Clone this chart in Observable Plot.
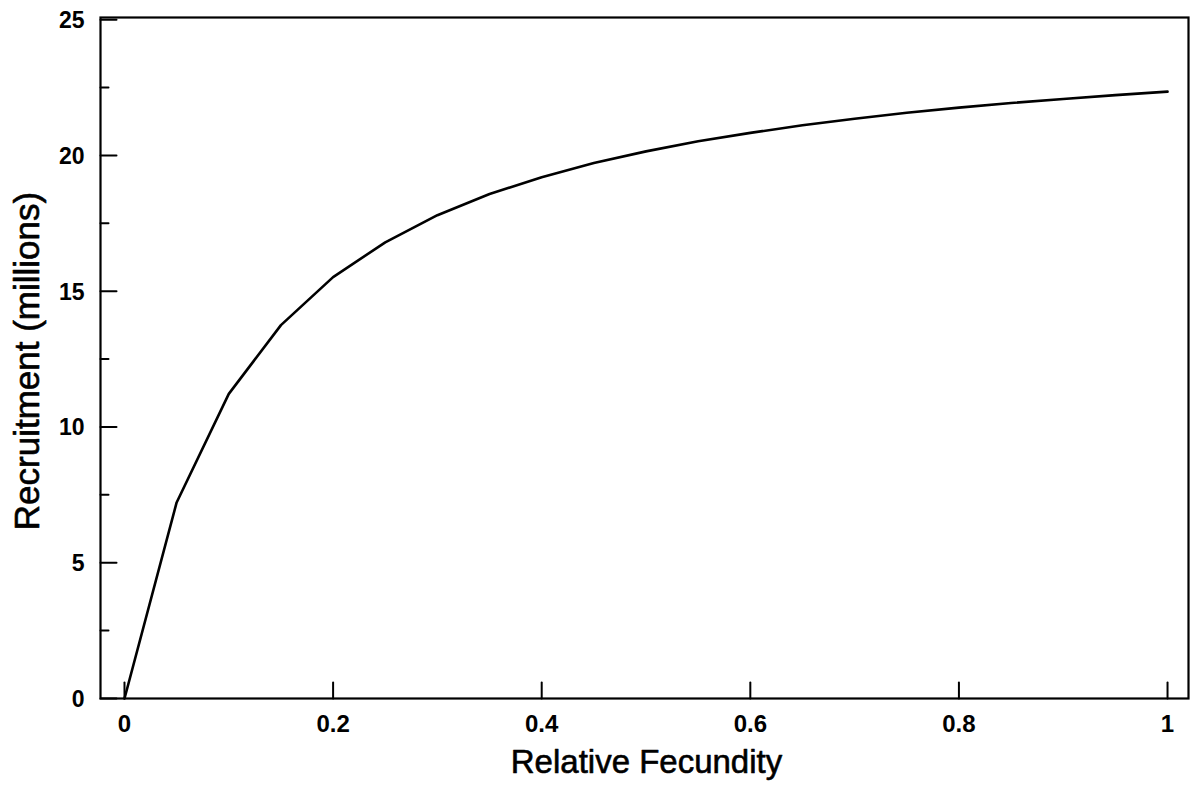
<!DOCTYPE html>
<html>
<head>
<meta charset="utf-8">
<script src="https://cdn.jsdelivr.net/npm/d3@7"></script>
<script src="https://cdn.jsdelivr.net/npm/@observablehq/plot@0.6"></script>
<style>
  html, body { margin: 0; padding: 0; background: #fff; }
  #chart svg { display: block; }
</style>
</head>
<body>
<div id="chart"></div>
<script>
// Data
const fecundity = [0, 0.05, 0.10, 0.15, 0.20, 0.25, 0.30, 0.35, 0.40, 0.45, 0.50,
                   0.55, 0.60, 0.65, 0.70, 0.75, 0.80, 0.85, 0.90, 0.95, 1.00];
const recruitment = [0, 7.22, 11.22, 13.75, 15.52, 16.80, 17.80, 18.58, 19.20, 19.72, 20.15,
                     20.52, 20.83, 21.11, 21.35, 21.57, 21.76, 21.93, 22.08, 22.22, 22.35];
const xTicks = [0, 0.2, 0.4, 0.6, 0.8, 1];
const xTickLabels = ["0", "0.2", "0.4", "0.6", "0.8", "1"];
const yTicks = [0, 5, 10, 15, 20, 25];
const yTickLabels = ["0", "5", "10", "15", "20", "25"];
const yMinorTicks = [2.5, 7.5, 12.5, 17.5, 22.5];
const xTitle = "Relative Fecundity";
const yTitle = "Recruitment (millions)";

const data = fecundity.map((f, i) => ({f, r: recruitment[i]}));
const tickShape = {draw(ctx, l) { ctx.moveTo(0, 0); ctx.lineTo(0, -l); }};
const font = "'Liberation Sans', Arial, Helvetica, sans-serif";

const chart = Plot.plot({
  width: 1191,
  height: 785,
  marginLeft: 100,
  marginRight: 3,
  marginTop: 17,
  marginBottom: 87,
  style: {fontFamily: font, background: "#fff", color: "#000"},
  x: {domain: [-0.023, 1.0201], axis: null},
  y: {domain: [0, 25.08], axis: null},
  marks: [
    Plot.frame({stroke: "#000", strokeWidth: 2.2}),
    Plot.vector(xTicks, {x: d => d, frameAnchor: "bottom", length: 16, anchor: "start",
      shape: tickShape, stroke: "#000", strokeWidth: 2}),
    Plot.vector(yTicks, {y: d => d, frameAnchor: "left", rotate: 90, length: 16, anchor: "start",
      shape: tickShape, stroke: "#000", strokeWidth: 2}),
    Plot.vector(yMinorTicks, {y: d => d, frameAnchor: "left", rotate: 90, length: 8, anchor: "start",
      shape: tickShape, stroke: "#000", strokeWidth: 2}),
    Plot.text(xTicks, {x: d => d, frameAnchor: "bottom", text: (d, i) => xTickLabels[i],
      lineAnchor: "top", textAnchor: "middle", dy: 16, fontSize: 24, fontWeight: "bold", fill: "#000"}),
    Plot.text(yTicks, {y: d => d, frameAnchor: "left", text: (d, i) => yTickLabels[i],
      lineAnchor: "middle", textAnchor: "end", dx: -16, dy: 1, fontSize: 23, fontWeight: "bold", fill: "#000"}),
    Plot.line(data, {x: "f", y: "r", stroke: "#000", strokeWidth: 2.6, strokeLinejoin: "round"}),
    Plot.text([xTitle], {text: d => d, frameAnchor: "bottom", dy: 64, dx: 2, lineAnchor: "middle",
      textAnchor: "middle", fontSize: 33, fill: "#000", stroke: "#000", strokeWidth: 0.6}),
    Plot.text([yTitle], {text: d => d, frameAnchor: "left", rotate: -90, dx: -73, dy: 3, lineAnchor: "middle",
      textAnchor: "middle", fontSize: 35, fill: "#000", stroke: "#000", strokeWidth: 0.6})
  ]
});
document.getElementById("chart").appendChild(chart);
</script>
</body>
</html>
